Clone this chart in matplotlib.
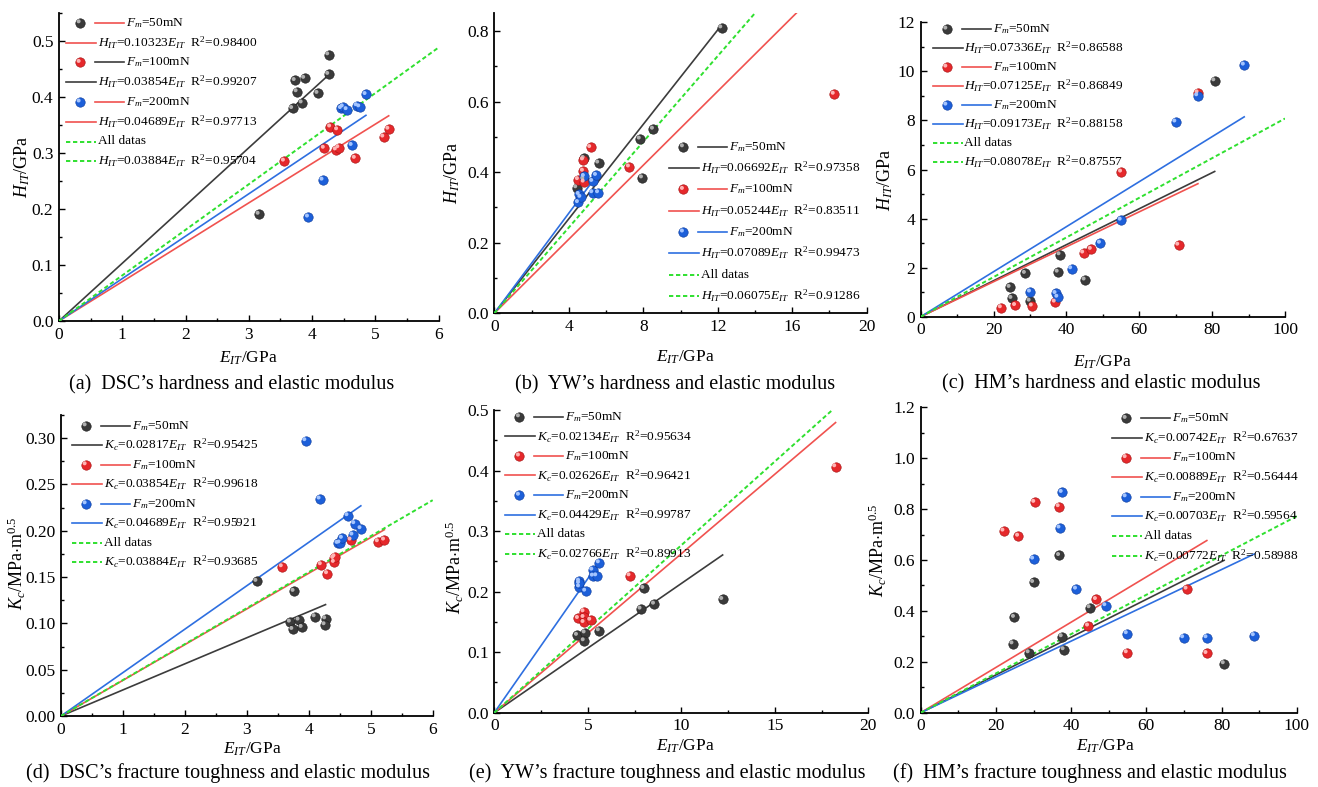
import numpy as np
import matplotlib
matplotlib.use('Agg')
import matplotlib.pyplot as plt
import matplotlib.transforms as mtransforms
from matplotlib.lines import Line2D
from matplotlib.ticker import MultipleLocator, FormatStrFormatter

# --- data ---
# (a) DSC hardness vs elastic modulus
dsc_h_e50 = [3.16, 3.69, 3.73, 3.76, 3.84, 3.88, 4.09, 4.26, 4.26]
dsc_h_v50 = [0.191, 0.380, 0.430, 0.410, 0.390, 0.434, 0.407, 0.476, 0.441]
dsc_h_e100 = [3.56, 4.19, 4.29, 4.38, 4.40, 4.42, 4.68, 5.13, 5.21]
dsc_h_v100 = [0.286, 0.309, 0.347, 0.306, 0.342, 0.310, 0.291, 0.329, 0.343]
dsc_h_e200 = [3.94, 4.17, 4.46, 4.49, 4.55, 4.63, 4.71, 4.75, 4.85]
dsc_h_v200 = [0.186, 0.252, 0.380, 0.383, 0.378, 0.314, 0.385, 0.383, 0.405]
dsc_h_slopes = [0.10323, 0.0704, 0.0758]
dsc_h_slope_all = 0.0815

# (b) YW hardness
yw_h_e50 = [4.42, 4.80, 4.82, 5.60, 7.83, 7.95, 8.54, 12.21]
yw_h_v50 = [0.356, 0.380, 0.439, 0.426, 0.494, 0.384, 0.522, 0.809]
yw_h_e100 = [4.51, 4.78, 4.78, 4.82, 5.17, 7.25, 18.25]
yw_h_v100 = [0.379, 0.435, 0.403, 0.372, 0.470, 0.415, 0.621]
yw_h_e200 = [4.51, 4.55, 4.64, 4.83, 5.28, 5.28, 5.48, 5.59]
yw_h_v200 = [0.314, 0.337, 0.329, 0.388, 0.374, 0.342, 0.391, 0.342]
yw_h_slopes = [0.06692, 0.05244, 0.07089]
yw_h_slope_all = 0.06075

# (c) HM hardness
hm_h_e50 = [24.5, 25.0, 28.7, 30.0, 37.7, 38.2, 45.1, 80.7]
hm_h_v50 = [1.20, 0.75, 1.77, 0.64, 1.82, 2.53, 1.50, 9.62]
hm_h_e100 = [22.1, 26.0, 30.6, 36.9, 44.7, 46.8, 55.1, 70.8, 76.1]
hm_h_v100 = [0.37, 0.46, 0.44, 0.60, 2.60, 2.75, 5.90, 2.92, 9.13]
hm_h_e200 = [30.1, 37.1, 37.6, 41.4, 49.3, 55.0, 70.0, 76.0, 88.8]
hm_h_v200 = [1.01, 0.95, 0.80, 1.96, 3.00, 3.94, 7.94, 9.01, 10.26]
hm_h_slopes = [0.07336, 0.07125, 0.09173]
hm_h_slope_all = 0.08078

# (d) DSC fracture toughness
dsc_k_e50 = [3.16, 3.76, 3.70, 3.84, 3.74, 3.89, 4.10, 4.27, 4.26]
dsc_k_v50 = [0.1455, 0.1347, 0.1015, 0.1037, 0.0936, 0.0958, 0.1073, 0.1051, 0.0987]
dsc_k_e100 = [3.57, 4.20, 4.30, 4.40, 4.41, 4.42, 4.68, 5.12, 5.22]
dsc_k_v100 = [0.1613, 0.1635, 0.1538, 0.1703, 0.1660, 0.1721, 0.1901, 0.1883, 0.1901]
dsc_k_e200 = [3.95, 4.18, 4.47, 4.50, 4.54, 4.63, 4.71, 4.74, 4.84]
dsc_k_v200 = [0.2974, 0.2344, 0.1865, 0.1870, 0.1920, 0.2164, 0.1955, 0.2078, 0.2024]
dsc_k_slopes = [0.02817, 0.03854, 0.04689]
dsc_k_slope_all = 0.03884

# (e) YW fracture toughness
yw_k_e50 = [4.44, 4.85, 4.80, 5.61, 7.84, 7.99, 8.56, 12.21]
yw_k_v50 = [0.128, 0.132, 0.119, 0.1355, 0.1713, 0.2054, 0.1795, 0.1872]
yw_k_e100 = [4.49, 4.79, 4.79, 4.79, 5.15, 7.25, 18.25]
yw_k_v100 = [0.1558, 0.1669, 0.1575, 0.1492, 0.1530, 0.2263, 0.4064]
yw_k_e200 = [4.55, 4.55, 4.55, 4.88, 5.26, 5.29, 5.47, 5.61]
yw_k_v200 = [0.2175, 0.2080, 0.2137, 0.2010, 0.2357, 0.2258, 0.2263, 0.2478]
yw_k_slopes = [0.02134, 0.02626, 0.04429]
yw_k_slope_all = 0.02766

# (f) HM fracture toughness
hm_k_e50 = [24.5, 24.9, 28.8, 30.0, 36.9, 37.6, 38.1, 45.0, 80.7]
hm_k_v50 = [0.271, 0.375, 0.236, 0.512, 0.618, 0.299, 0.248, 0.413, 0.193]
hm_k_e100 = [22.1, 26.0, 30.3, 36.8, 44.6, 46.7, 54.9, 70.8, 76.1]
hm_k_v100 = [0.714, 0.694, 0.827, 0.810, 0.341, 0.445, 0.236, 0.486, 0.233]
hm_k_e200 = [30.0, 37.0, 37.6, 41.4, 49.2, 54.9, 69.9, 76.1, 88.7]
hm_k_v200 = [0.604, 0.726, 0.866, 0.486, 0.421, 0.311, 0.295, 0.295, 0.303]
hm_k_slopes = [0.00742, 0.00889, 0.00703]
hm_k_slope_all = 0.00772

loads = ['50', '100', '200']

# legend fit labels: (coefficient, R2) per group + all data
fit_a = [('0.10323', '0.98400'), ('0.03854', '0.99207'), ('0.04689', '0.97713'), ('0.03884', '0.95704')]
fit_b = [('0.06692', '0.97358'), ('0.05244', '0.83511'), ('0.07089', '0.99473'), ('0.06075', '0.91286')]
fit_c = [('0.07336', '0.86588'), ('0.07125', '0.86849'), ('0.09173', '0.88158'), ('0.08078', '0.87557')]
fit_d = [('0.02817', '0.95425'), ('0.03854', '0.99618'), ('0.04689', '0.95921'), ('0.03884', '0.93685')]
fit_e = [('0.02134', '0.95634'), ('0.02626', '0.96421'), ('0.04429', '0.99787'), ('0.02766', '0.89913')]
fit_f = [('0.00742', '0.67637'), ('0.00889', '0.56444'), ('0.00703', '0.59564'), ('0.00772', '0.58988')]

captions = ["(a)  DSC\u2019s hardness and elastic modulus",
            "(b)  YW\u2019s hardness and elastic modulus",
            "(c)  HM\u2019s hardness and elastic modulus",
            "(d)  DSC\u2019s fracture toughness and elastic modulus",
            "(e)  YW\u2019s fracture toughness and elastic modulus",
            "(f)  HM\u2019s fracture toughness and elastic modulus"]

# --- style ---
W, H = 1318, 787
plt.rcParams.update({
    'font.family': 'Liberation Serif',
    'mathtext.fontset': 'custom',
    'mathtext.rm': 'Liberation Serif',
    'mathtext.it': 'Liberation Serif:italic',
    'mathtext.bf': 'Liberation Serif:bold',
    'font.size': 11,
})
BALL = {'50': ('#3a3a3a', '#b0b0b0', '#1a1a1a'),
        '100': ('#e5282b', '#ffb4b4', '#a01010'),
        '200': ('#1c5fd9', '#a3c4ff', '#0c3a99')}
LC = {'k': '#3c3c3c', 'r': '#f0524f', 'b': '#2e6fe0', 'g': '#2fe02f'}

fig = plt.figure(figsize=(W / 100, H / 100), dpi=100)


def px_rect(l, t, r, b):
    return [l / W, 1 - b / H, (r - l) / W, (b - t) / H]


def fxy(x, y):
    return x / W, 1 - y / H


def draw_balls(ax, xs, ys, load, transform, size=46, zorder=5):
    base, hi, edge = BALL[load]
    ax.scatter(xs, ys, s=size, color=base, edgecolors=edge, linewidths=0.4,
               transform=transform, zorder=zorder, clip_on=False)
    shift = mtransforms.ScaledTranslation(-1.0 / 72, 1.0 / 72, fig.dpi_scale_trans)
    ax.scatter(xs, ys, s=size * 0.18, color=hi, edgecolors='none',
               transform=transform + shift, zorder=zorder + 0.1, clip_on=False)


def draw_legend(ax, mx, my, step, var, fits, colors):
    labels = []
    for i, ld in enumerate(loads):
        labels.append((ld, colors[2 * i], '-', '$F_m$=%smN' % ld))
        labels.append((None, colors[2 * i + 1], '-',
                       '$%s$=%s$E_{IT}$  R$^2$=%s' % (var, fits[i][0], fits[i][1])))
    labels.append((None, 'g', '--', 'All datas'))
    labels.append((None, 'g', '--', '$%s$=%s$E_{IT}$  R$^2$=%s' % (var, fits[3][0], fits[3][1])))
    for i, (ball, c, ls, txt) in enumerate(labels):
        y = my + i * step
        if ball:
            x0, x1, xt = mx + 15, mx + 44, mx + 46
            bx, by = fxy(mx, y)
            draw_balls(ax, [bx], [by], ball, fig.transFigure, zorder=8)
        else:
            x0, x1, xt = mx - 14, mx + 16, mx + 17.5
        (ax0, ay), (ax1, _) = fxy(x0, y), fxy(x1, y)
        lw = 1.2 if ls == '-' else 1.4
        fig.add_artist(Line2D([ax0, ax1], [ay, ay], color=LC[c], lw=lw, ls=ls,
                              dashes=(2.2, 1.4) if ls == '--' else (None, None)))
        tx, ty = fxy(xt, y)
        fig.text(tx, ty, txt, fontsize=9.6, ha='left', va='center')


panels = [
    dict(rect=(59, 13.3, 438.7, 321), xlim=6, ylim=0.55, xt=(1, 0.5), yt=(0.1, 0.05), yf='%.1f',
         data=[(dsc_h_e50, dsc_h_v50), (dsc_h_e100, dsc_h_v100), (dsc_h_e200, dsc_h_v200)],
         slopes=dsc_h_slopes, sall=dsc_h_slope_all, var='H_{IT}', fits=fit_a,
         leg=(80, 22.7, 19.8), lcol=['r', 'r', 'k', 'k', 'r', 'r'],
         ylab='$H_{IT}$/GPa', ylp=(22, 167), xlp=(248, 358), cap=(232, 385)),
    dict(rect=(494.3, 13.3, 866.7, 313.3), xlim=20, ylim=0.85, xt=(4, 2), yt=(0.2, 0.1), yf='%.1f',
         data=[(yw_h_e50, yw_h_v50), (yw_h_e100, yw_h_v100), (yw_h_e200, yw_h_v200)],
         slopes=yw_h_slopes, sall=yw_h_slope_all, var='H_{IT}', fits=fit_b,
         leg=(683.3, 146.7, 21.3), lcol=['k', 'k', 'r', 'r', 'b', 'b'],
         ylab='$H_{IT}$/GPa', ylp=(452, 173), xlp=(685, 357), cap=(675, 385)),
    dict(rect=(920.7, 22.3, 1285, 316.7), xlim=100, ylim=12, xt=(20, 10), yt=(2, 1), yf='%d',
         data=[(hm_h_e50, hm_h_v50), (hm_h_e100, hm_h_v100), (hm_h_e200, hm_h_v200)],
         slopes=hm_h_slopes, sall=hm_h_slope_all, var='H_{IT}', fits=fit_c,
         leg=(946.7, 29, 19.0), lcol=['k', 'k', 'r', 'r', 'b', 'b'],
         ylab='$H_{IT}$/GPa', ylp=(885, 180), xlp=(1102, 362), cap=(1101, 384)),
    dict(rect=(61, 415, 432.7, 716), xlim=6, ylim=0.325, xt=(1, 0.5), yt=(0.05, 0.025), yf='%.2f',
         data=[(dsc_k_e50, dsc_k_v50), (dsc_k_e100, dsc_k_v100), (dsc_k_e200, dsc_k_v200)],
         slopes=dsc_k_slopes, sall=dsc_k_slope_all, var='K_c', fits=fit_d,
         leg=(86, 425.7, 19.5), lcol=['k', 'k', 'r', 'r', 'b', 'b'],
         ylab='$K_c$/MPa$\\cdot$m$^{0.5}$', ylp=(17, 563), xlp=(252, 749), cap=(228, 773)),
    dict(rect=(494.3, 410, 868.3, 712.7), xlim=20, ylim=0.5, xt=(5, 2.5), yt=(0.1, 0.05), yf='%.1f',
         data=[(yw_k_e50, yw_k_v50), (yw_k_e100, yw_k_v100), (yw_k_e200, yw_k_v200)],
         slopes=yw_k_slopes, sall=yw_k_slope_all, var='K_c', fits=fit_e,
         leg=(519.3, 416.7, 19.6), lcol=['k', 'k', 'r', 'r', 'b', 'b'],
         ylab='$K_c$/MPa$\\cdot$m$^{0.5}$', ylp=(455, 567), xlp=(685, 746), cap=(667, 773)),
    dict(rect=(920.7, 407.3, 1296.7, 712.7), xlim=100, ylim=1.2, xt=(20, 10), yt=(0.2, 0.1), yf='%.1f',
         data=[(hm_k_e50, hm_k_v50), (hm_k_e100, hm_k_v100), (hm_k_e200, hm_k_v200)],
         slopes=hm_k_slopes, sall=hm_k_slope_all, var='K_c', fits=fit_f,
         leg=(1126, 418.3, 19.6), lcol=['k', 'k', 'r', 'r', 'b', 'b'],
         ylab='$K_c$/MPa$\\cdot$m$^{0.5}$', ylp=(878, 550), xlp=(1105, 746), cap=(1090, 773)),
]

fit_colors = ['k', 'r', 'b']

for p, cap in zip(panels, captions):
    ax = fig.add_axes(px_rect(*p['rect']))
    ax.set_xlim(0, p['xlim'])
    ax.set_ylim(0, p['ylim'])
    for s in ['top', 'right']:
        ax.spines[s].set_visible(False)
    for s in ['left', 'bottom']:
        ax.spines[s].set_linewidth(1.3)
    ax.xaxis.set_major_locator(MultipleLocator(p['xt'][0]))
    ax.xaxis.set_minor_locator(MultipleLocator(p['xt'][1]))
    ax.yaxis.set_major_locator(MultipleLocator(p['yt'][0]))
    ax.yaxis.set_minor_locator(MultipleLocator(p['yt'][1]))
    ax.yaxis.set_major_formatter(FormatStrFormatter(p['yf']))
    ax.xaxis.set_major_formatter(FormatStrFormatter('%g'))
    ax.tick_params(which='both', direction='in', labelsize=12.5, width=1.0, pad=4)
    ax.tick_params(which='major', length=4)
    ax.tick_params(which='minor', length=2.5)

    # fit lines
    for (xs, ys), k, c in zip(p['data'], p['slopes'], fit_colors):
        xe = np.array([0, max(xs)])
        ax.plot(xe, k * xe, color=LC[c], lw=1.2, zorder=3)
    xa = np.array([0, p['xlim']])
    ax.plot(xa, p['sall'] * xa, color=LC['g'], lw=1.4, ls='--', dashes=(2.2, 1.4), zorder=3)

    # data balls
    for (xs, ys), ld in zip(p['data'], loads):
        draw_balls(ax, xs, ys, ld, ax.transData)

    mx, my, step = p['leg']
    draw_legend(ax, mx, my, step, p['var'], p['fits'], p['lcol'])

    fig.text(*fxy(*p['ylp']), p['ylab'], rotation=90, ha='center', va='center', fontsize=13)
    fig.text(*fxy(*p['xlp']), '$E_{IT}$/GPa', ha='center', va='center', fontsize=12.5)
    fig.text(*fxy(*p['cap']), cap, ha='center', va='center', fontsize=14.5)

fig.savefig('out.png', dpi=100)
